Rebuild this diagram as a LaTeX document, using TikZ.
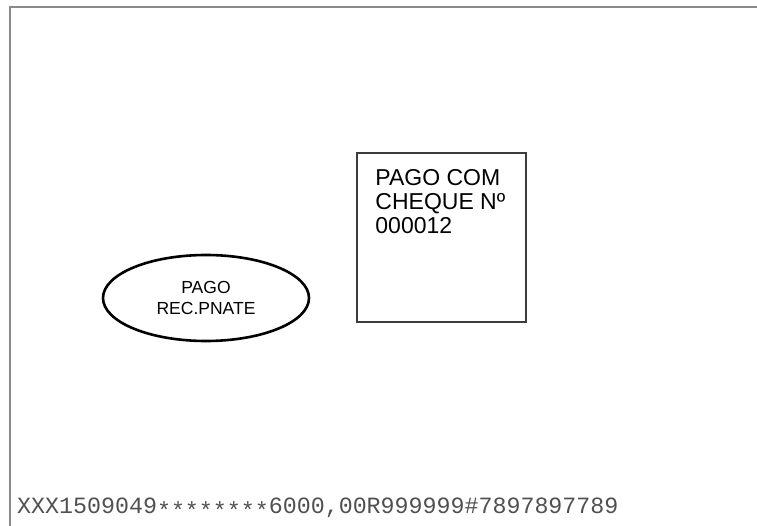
\documentclass[tikz,border=0pt]{standalone}
\usepackage{fontspec}
\setmainfont{Liberation Sans}
\setmonofont{Liberation Mono}
\usetikzlibrary{positioning,calc,shapes.geometric}
\definecolor{framegrey}{HTML}{8A8A8A}
\definecolor{boxgrey}{HTML}{3C3C3C}
\definecolor{codegrey}{HTML}{505050}
\newcommand\lowstars{\raisebox{-0.22em}{********}}
\tikzset{
  frame/.style    = {draw=framegrey, line width=2.2pt},
  chqbox/.style   = {draw=boxgrey, line width=1.5pt, rectangle, minimum width=169pt,
                     minimum height=169pt, inner sep=0pt},
  chqtext/.style  = {font=\fontsize{23}{24}\selectfont, align=left, inner sep=0pt},
  stamp/.style    = {draw=black, line width=2.6pt, ellipse, minimum width=206pt,
                     minimum height=86pt, inner sep=0pt, align=center,
                     font=\fontsize{17.5}{21}\selectfont},
  codeline/.style = {font=\ttfamily\fontsize{23.3}{24}\selectfont, text=codegrey, inner sep=0pt},
}
\begin{document}
\begin{tikzpicture}[x=1pt, y=-1pt]
  \useasboundingbox (0,0) rectangle (757,526);
  \draw[frame] (10,526) -- (10,7) -- (757,7);
  \node[chqbox] (chq) at (441.5,237.5) {};
  \node[chqtext, anchor=north west] (chqlbl) at ($(chq.north west)+(19,17)$)
    {PAGO COM\\CHEQUE Nº\\000012};
  \node[stamp] (rec) at (206,298) {PAGO\\REC.PNATE};
  \node[codeline, anchor=base west] (code) at (17,513)
    {XXX1509049\lowstars6000,00R999999\#7897897789};
\end{tikzpicture}
\end{document}
